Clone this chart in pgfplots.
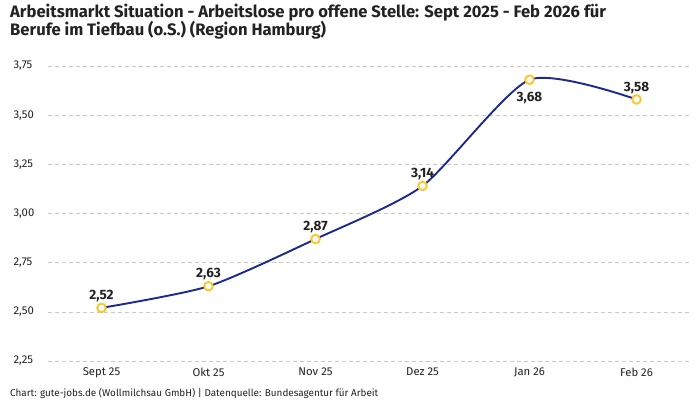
\documentclass[border=0pt]{standalone}
\usepackage{pgfplots}
\pgfplotsset{compat=1.18}
\usepackage{fontspec}
\setmainfont{Fira Sans}
\definecolor{linie}{HTML}{1B2A8C}
\definecolor{punkt}{HTML}{FFC629}
\definecolor{gitter}{HTML}{C8C8C8}
\definecolor{textc}{HTML}{222222}
\pgfkeys{/pgf/number format/.cd, use comma, fixed, fixed zerofill, precision=2, assume math mode=true}
\begin{document}
\begin{tikzpicture}
\path[use as bounding box] (0pt,0pt) rectangle (700pt,400pt);
\node[anchor=north west, align=left, font=\bfseries\fontsize{16.6}{18.5}\selectfont, text=textc, inner sep=0pt]
  at (10pt,396.5pt) {Arbeitsmarkt Situation - Arbeitslose pro offene Stelle: Sept 2025 - Feb 2026 für\\Berufe im Tiefbau (o.S.) (Region Hamburg)};
\node[anchor=west, font=\fontsize{9.9}{11}\selectfont, text=textc, inner sep=0pt]
  at (10pt,7pt) {Chart: gute-jobs.de (Wollmilchsau GmbH) | Datenquelle: Bundesagentur für Arbeit};
\begin{axis}[
    at={(48pt,39pt)}, anchor=south west,
    scale only axis,
    width=642pt, height=295pt,
    xmin=-0.5, xmax=5.5,
    ymin=2.25, ymax=3.75,
    xtick={0,...,5},
    xticklabels={Sept 25,Okt 25,Nov 25,Dez 25,Jan 26,Feb 26},
    ytick={2.25,2.5,2.75,3,3.25,3.5,3.75},
    tick label style={font=\fontsize{11.3}{13}\selectfont, text=textc},
    yticklabel style={anchor=west, xshift=-38pt},
    xticklabel style={yshift=-3pt},
    axis line style={draw=none},
    major tick length=0pt,
    ymajorgrids,
    grid style={gitter, dash pattern=on 4pt off 3pt, line width=0.6pt},
    clip=false,
]
\addplot[
    linie, line width=1.9pt, smooth, tension=0.4,
    mark=*, mark size=4.3pt,
    mark options={fill=white, draw=punkt, line width=1.9pt},
    visualization depends on={value \thisrow{pos} \as \labelpos},
    visualization depends on={\thisrow{dy} \as \labeldy},
    nodes near coords,
    nodes near coords style={
        anchor=\labelpos, yshift=\labeldy pt, inner sep=5pt,
        font=\bfseries\fontsize{13.5}{15}\selectfont, text=textc},
] table[x=x, y=y] {
x y pos dy
0 2.52 south 0
1 2.63 south 0
2 2.87 south 0
3 3.14 south 0
4 3.68 north -6
5 3.58 south 0
};
\end{axis}
\end{tikzpicture}
\end{document}
